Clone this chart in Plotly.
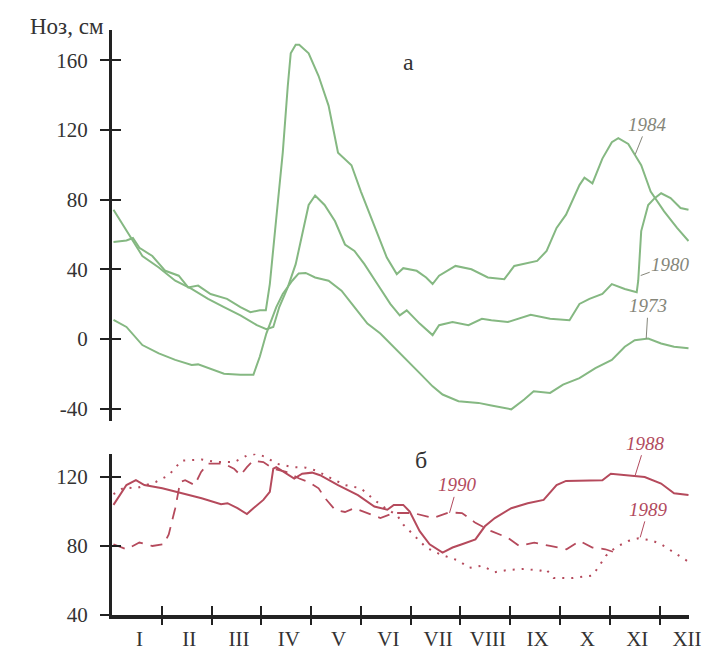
import plotly.graph_objects as go

# ---------------- data (x = month position, 0 = start of January) ----------------
x_1984 = [0.03,0.29,0.42,0.55,0.81,1.07,1.34,1.53,1.73,1.98,2.31,2.58,2.78,2.97,3.09,3.17,3.30,3.43,3.53,3.59,
          3.69,3.76,3.95,4.15,4.35,4.54,4.81,5.00,5.26,5.52,5.72,5.85,6.12,6.31,6.44,6.57,6.90,7.22,7.55,7.88,
          8.08,8.54,8.73,8.93,9.12,9.39,9.49,9.65,9.85,10.04,10.17,10.37,10.63,10.82,11.09,11.35,11.58]
y_1984 = [55.8,56.6,58,52.4,47.7,39.2,36.4,29.7,30.7,25.9,23.1,18.4,15.5,16.5,16.5,31.6,69.5,107,145,164,
          169,169,164,151,134,107,99.8,84.7,65.7,46.8,37.3,40.7,39.2,35.4,31.6,36.4,42,40.1,35.4,34.4,
          42,44.9,50.6,63.8,71.4,88.4,92.6,89.4,103.6,113,115.3,112,99.8,84.7,73.3,63.8,56.3]

x_1980 = [0.03,0.22,0.42,0.61,0.94,1.27,1.60,1.93,2.25,2.58,2.91,3.10,3.24,3.36,3.53,3.69,3.82,3.95,4.08,4.27,
          4.48,4.68,4.87,5.07,5.33,5.59,5.78,5.92,6.18,6.44,6.57,6.84,7.16,7.43,7.62,7.95,8.41,8.80,9.19,9.39,
          9.59,9.85,10.04,10.30,10.54,10.57,10.63,10.77,10.90,11.03,11.22,11.42,11.58]
y_1980 = [74.2,65.7,56.3,47.7,41.1,33.5,28.8,23.1,18.4,13.6,8,5.7,7,18.4,29.7,43,60,77,82.4,77,
          67.6,54.3,50.6,43,31.6,20.2,13.6,16.5,8.9,2.3,8,9.8,8,11.7,10.8,9.8,14,11.7,10.8,20.2,
          23.1,25.9,31.6,28.8,26.9,33.5,62,77,80.9,83.7,80.9,75.2,74.2]

x_1973 = [0.03,0.29,0.61,0.94,1.27,1.60,1.73,2.05,2.25,2.58,2.84,2.97,3.10,3.30,3.43,3.62,3.75,3.89,4.08,4.35,
          4.61,4.87,5.13,5.39,5.66,5.92,6.18,6.44,6.64,6.96,7.36,7.62,7.82,8.02,8.28,8.47,8.80,9.06,9.39,9.71,
          10.04,10.30,10.50,10.77,11.03,11.29,11.58]
y_1973 = [11.1,7,-3.4,-8.2,-11.9,-14.8,-14.5,-17.6,-19.9,-20.5,-20.5,-10,3.2,18.4,25.9,33.5,37.7,38,35.4,33.5,
          27.8,18.4,8.9,3.2,-4.4,-11.9,-19.5,-27.1,-31.8,-35.6,-36.6,-38.1,-39.4,-40.3,-34.7,-29.9,-30.9,-26.1,-22.4,-16.7,
          -11.9,-4.4,-0.6,0.3,-2.5,-4.4,-5.3]

x_1988 = [0.03,0.12,0.29,0.48,0.65,1.01,1.40,1.80,2.19,2.32,2.52,2.71,2.84,3.04,3.17,3.24,3.30,3.50,3.66,3.82,
          4.02,4.18,4.54,4.94,5.27,5.53,5.66,5.85,5.98,6.18,6.38,6.64,6.84,7.03,7.30,7.49,7.69,8.02,8.35,8.67,
          8.93,9.12,9.85,10.02,10.37,10.70,11.03,11.29,11.58]
y_1988 = [103.8,107.7,115.3,118.1,115.3,113.4,110.5,107.7,104.2,104.8,101.9,98.5,101.9,106.7,111.4,124.8,125.7,121.9,119.1,121.9,
          122.5,121,115.3,109.5,102.9,101,103.8,103.8,100,88.6,81,76.2,79.1,81,83.8,91.4,96.2,101.9,104.8,106.7,
          115.3,117.7,118.1,121.9,121,120,116.2,110.5,109.5]

x_1989 = [0.03,0.25,0.48,0.88,1.14,1.40,1.80,2.12,2.45,2.71,2.91,3.10,3.30,3.63,3.89,4.09,4.41,4.68,5.00,5.27,
          5.53,5.72,5.85,6.05,6.31,6.58,6.97,7.17,7.43,7.69,7.95,8.28,8.60,8.71,8.87,9.26,9.65,9.79,9.92,10.11,
          10.37,10.57,10.83,11.03,11.29,11.55]
y_1989 = [110,114,113.4,117.1,121,129.5,130.1,128.6,128.6,132.4,133.4,131.4,127.7,125.7,125.4,123.8,119.1,115.3,113.4,106.7,
          101,98.1,92.4,86.7,79.1,75.3,71.4,67.3,68.6,64.8,66.1,66.7,65.7,66.7,61.5,61.4,62.9,68.6,74.3,79.1,
          82.9,84.4,83.3,81,76.2,71.4]

x_1990 = [0.03,0.29,0.55,0.81,1.04,1.14,1.27,1.37,1.47,1.66,1.79,1.93,2.25,2.45,2.58,2.71,2.84,3.04,3.24,3.50,
          3.76,3.95,4.15,4.28,4.48,4.68,4.87,5.13,5.39,5.66,6.05,6.44,6.77,7.03,7.30,7.62,7.95,8.18,8.48,8.80,
          9.13,9.39,9.65,9.91,10.11]
y_1990 = [81,78.1,82,80,81,86.7,101.9,117.1,118.1,115.3,122.9,127.7,127.7,124.8,121,125.7,129.5,128.6,124.8,122.9,
          119.1,117.1,113.4,107.7,101,99.7,101.9,99.1,96.2,99.1,99.1,96.2,99.4,99.1,93.4,88.6,84.8,80,81.9,80,
          78.1,82.9,79.1,78.1,76.2]

month_labels = ["I","II","III","IV","V","VI","VII","VIII","IX","X","XI","XII"]
month_centers = [i + 0.55 for i in range(12)]
month_bounds = list(range(1, 12))

top_ticks = [-40, 0, 40, 80, 120, 160]
top_ticktext = ["-40", "0", "40", "80", "120", "160"]
bot_ticks = [40, 80, 120]
bot_ticktext = ["40", "80", "120"]

# ---------------- styling ----------------
GREEN = "#85b882"
RED = "#b54a5c"
TOPTXT = "#85867a"
BOTTXT = "#b24a5e"
AX = "#222222"
FONT = "Liberation Serif"
XR = [0, 11.59]
TOP_R = [-47, 177.4]
BOT_R = [40, 133.5]

fig = go.Figure()

for xs, ys in [(x_1984, y_1984), (x_1980, y_1980), (x_1973, y_1973)]:
    fig.add_trace(go.Scatter(x=xs, y=ys, mode="lines", line=dict(color=GREEN, width=2),
                             xaxis="x", yaxis="y", showlegend=False, hoverinfo="skip"))

fig.add_trace(go.Scatter(x=x_1988, y=y_1988, mode="lines", line=dict(color=RED, width=2),
                         xaxis="x2", yaxis="y2", showlegend=False))
fig.add_trace(go.Scatter(x=x_1989, y=y_1989, mode="lines", line=dict(color=RED, width=2, dash="2px,7px"),
                         xaxis="x2", yaxis="y2", showlegend=False))
fig.add_trace(go.Scatter(x=x_1990, y=y_1990, mode="lines", line=dict(color=RED, width=1.8, dash="12px,8px"),
                         xaxis="x2", yaxis="y2", showlegend=False))

# empty traces so that the overlay tick axes get drawn
fig.add_trace(go.Scatter(x=[], y=[], xaxis="x", yaxis="y3", showlegend=False))
fig.add_trace(go.Scatter(x=[], y=[], xaxis="x2", yaxis="y4", showlegend=False))
fig.add_trace(go.Scatter(x=[], y=[], xaxis="x3", yaxis="y2", showlegend=False))
fig.add_trace(go.Scatter(x=[], y=[], xaxis="x4", yaxis="y2", showlegend=False))

TOP_DOM = [0.3316, 1.0]
BOT_DOM = [0.0, 0.2758]

tickfont = dict(family=FONT, size=21, color="#333333")

fig.update_layout(
    width=702, height=651,
    margin=dict(l=112, r=0, t=30, b=30),
    paper_bgcolor="white", plot_bgcolor="white",
    font=dict(family=FONT, size=21, color="#333333"),
    xaxis=dict(domain=[0, 1], range=XR, anchor="y", visible=False, fixedrange=True),
    yaxis=dict(domain=TOP_DOM, range=TOP_R, anchor="x", showline=True, linewidth=3, linecolor=AX,
               ticks="outside", ticklen=9, tickwidth=1.5, tickcolor=AX,
               tickmode="array", tickvals=top_ticks, ticktext=top_ticktext, tickfont=tickfont,
               ticklabelstandoff=8, showgrid=False, zeroline=False),
    yaxis3=dict(overlaying="y", range=TOP_R, anchor="x", side="left", showline=False,
                ticks="inside", ticklen=9, tickwidth=1.5, tickcolor=AX,
                tickmode="array", tickvals=top_ticks, showticklabels=False, showgrid=False, zeroline=False),
    xaxis2=dict(domain=[0, 1], range=XR, anchor="y2", showline=True, linewidth=3.5, linecolor=AX,
                ticks="", tickmode="array", tickvals=month_centers, ticktext=month_labels,
                tickfont=tickfont, ticklabelstandoff=2, ticklabeloverflow="allow",
                showgrid=False, zeroline=False),
    yaxis2=dict(domain=BOT_DOM, range=BOT_R, anchor="x2", showline=True, linewidth=3, linecolor=AX,
                ticks="outside", ticklen=9, tickwidth=1.5, tickcolor=AX,
                tickmode="array", tickvals=bot_ticks, ticktext=bot_ticktext, tickfont=tickfont,
                ticklabelstandoff=8, showgrid=False, zeroline=False),
    yaxis4=dict(overlaying="y2", range=BOT_R, anchor="x2", side="left", showline=False,
                ticks="inside", ticklen=9, tickwidth=1.5, tickcolor=AX,
                tickmode="array", tickvals=bot_ticks, showticklabels=False, showgrid=False, zeroline=False),
    xaxis3=dict(overlaying="x2", range=XR, anchor="y2", side="bottom", showline=False,
                ticks="outside", ticklen=9, tickwidth=1.5, tickcolor=AX,
                tickmode="array", tickvals=month_bounds, showticklabels=False, showgrid=False, zeroline=False),
    xaxis4=dict(overlaying="x2", range=XR, anchor="y2", side="bottom", showline=False,
                ticks="inside", ticklen=9, tickwidth=1.5, tickcolor=AX,
                tickmode="array", tickvals=month_bounds, showticklabels=False, showgrid=False, zeroline=False),
)

ann = []
# y axis title
ann.append(dict(text="Ноз, см", xref="paper", yref="paper", x=0, y=1.0068, xanchor="right", yanchor="middle",
                xshift=-6, showarrow=False, font=dict(family=FONT, size=23, color="#333333")))
# panel letters
ann.append(dict(text="а", xref="x", yref="y", x=5.95, y=159.3, showarrow=False,
                font=dict(family=FONT, size=24, color="#333333")))
ann.append(dict(text="б", xref="x2", yref="y2", x=6.21, y=130.1, showarrow=False,
                font=dict(family=FONT, size=24, color="#333333")))

def year_label(text, xref, yref, x, y, ax, ay, color):
    return dict(text="<i>%s</i>" % text, xref=xref, yref=yref, x=x, y=y, ax=ax, ay=ay,
                showarrow=True, arrowhead=0, arrowwidth=1, arrowcolor=color, standoff=0,
                font=dict(family=FONT, size=19, color=color))

ann.append(year_label("1984", "x", "y", 10.51, 106, 12, -30, TOPTXT))
ann.append(year_label("1980", "x", "y", 10.62, 36.5, 30, -11, TOPTXT))
ann.append(year_label("1973", "x", "y", 10.73, 0.2, 2, -33, TOPTXT))
ann.append(year_label("1988", "x2", "y2", 10.51, 121, 10, -32, BOTTXT))
ann.append(year_label("1990", "x2", "y2", 6.78, 99.2, 8, -28, BOTTXT))
ann.append(year_label("1989", "x2", "y2", 10.61, 85, 8, -28, BOTTXT))

fig.update_layout(annotations=ann)
fig.write_html("out.html")
